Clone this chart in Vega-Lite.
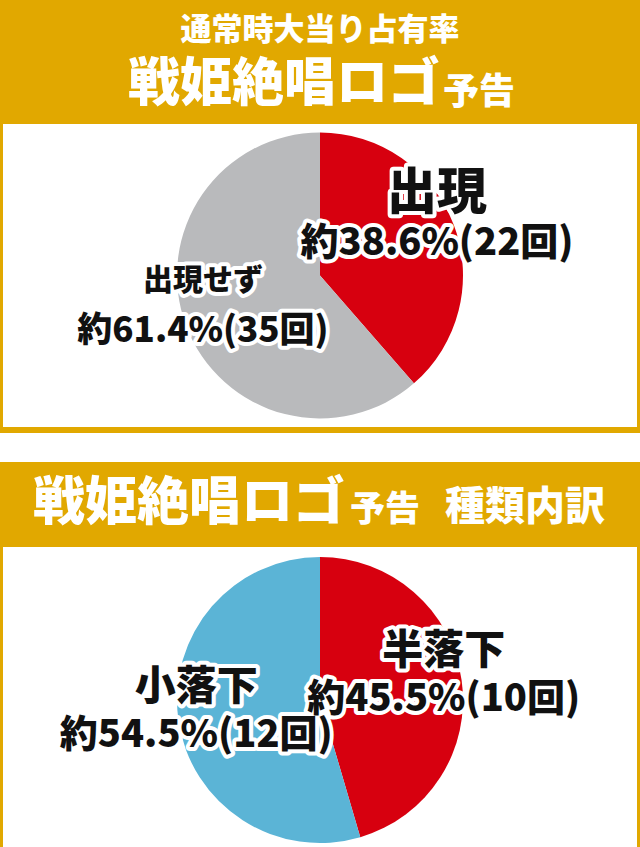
{
  "$schema": "https://vega.github.io/schema/vega-lite/v6.json",
  "padding": {"left": -3, "top": 0, "right": 0, "bottom": 0},
  "background": "white",
  "spacing": 29,
  "config": {
    "view": {"stroke": null},
    "concat": {"spacing": 0},
    "text": {"font": "Noto Sans CJK JP", "fontWeight": 900}
  },
  "resolve": {"scale": {"color": "independent", "size": "independent", "theta": "independent"}},
  "datasets": {
    "header1": [
      {"部分": "上段", "文字": "通常時大当り占有率"},
      {"部分": "主", "文字": "戦姫絶唱ロゴ"},
      {"部分": "副", "文字": "予告"}
    ],
    "header2": [
      {"部分": "主", "文字": "戦姫絶唱ロゴ"},
      {"部分": "副", "文字": "予告"},
      {"部分": "副2", "文字": "種類内訳"}
    ],
    "pie1": [
      {"結果": "出現", "回数": 22, "ラベル": "約38.6%(22回)"},
      {"結果": "出現せず", "回数": 35, "ラベル": "約61.4%(35回)"}
    ],
    "pie2": [
      {"結果": "半落下", "回数": 10, "ラベル": "約45.5%(10回)"},
      {"結果": "小落下", "回数": 12, "ラベル": "約54.5%(12回)"}
    ]
  },
  "vconcat": [
    {
      "spacing": 0,
      "resolve": {"scale": {"color": "independent", "size": "independent", "theta": "independent"}},
      "vconcat": [
        {
          "width": 640,
          "height": 118,
          "view": {"fill": "#E1A800", "stroke": null},
          "data": {"name": "header1"},
          "layer": [
            {
              "transform": [{"filter": "datum['部分'] === '上段'"}],
              "mark": {"type": "text", "fontSize": 31, "color": "white", "dy": -28, "align": "center", "baseline": "middle"},
              "encoding": {"text": {"field": "文字"}}
            },
            {
              "transform": [{"filter": "datum['部分'] === '主'"}],
              "mark": {"type": "text", "fontSize": 52, "color": "white", "dy": 26, "dx": 120, "align": "right", "baseline": "middle"},
              "encoding": {"text": {"field": "文字"}}
            },
            {
              "transform": [{"filter": "datum['部分'] === '副'"}],
              "mark": {"type": "text", "fontSize": 36, "color": "white", "dy": 34, "dx": 123, "align": "left", "baseline": "middle"},
              "encoding": {"text": {"field": "文字"}}
            }
          ]
        },
        {
          "width": 640,
          "height": 309,
          "view": {"fill": "white", "stroke": "#E1A800", "strokeWidth": 6},
          "data": {"name": "pie1"},
          "encoding": {
            "theta": {"field": "回数", "type": "quantitative", "stack": true},
            "order": {"field": "回数", "sort": "ascending"}
          },
          "layer": [
            {
              "mark": {"type": "arc", "radius": 143},
              "encoding": {
                "color": {"field": "結果", "type": "nominal", "scale": {"domain": ["出現", "出現せず"], "range": ["#D7000F", "#B9BABC"]}, "legend": null}
              }
            },
            {
              "mark": {"type": "text", "radius": 125, "dy": -38, "fill": "white", "stroke": "white", "strokeWidth": 8, "strokeJoin": "round", "baseline": "middle"},
              "encoding": {
                "text": {"field": "結果"},
                "size": {"field": "結果", "type": "nominal", "scale": {"domain": ["出現", "出現せず"], "range": [50, 30]}, "legend": null}
              }
            },
            {
              "mark": {"type": "text", "radius": 125, "dy": -38, "fill": "#111111", "baseline": "middle"},
              "encoding": {
                "text": {"field": "結果"},
                "size": {"field": "結果", "type": "nominal", "scale": {"domain": ["出現", "出現せず"], "range": [50, 30]}, "legend": null}
              }
            },
            {
              "mark": {"type": "text", "radius": 125, "dy": 12, "fill": "white", "stroke": "white", "strokeWidth": 8, "strokeJoin": "round", "baseline": "middle"},
              "encoding": {
                "text": {"field": "ラベル"},
                "size": {"field": "ラベル", "type": "nominal", "scale": {"domain": ["約38.6%(22回)", "約61.4%(35回)"], "range": [38, 35]}, "legend": null}
              }
            },
            {
              "mark": {"type": "text", "radius": 125, "dy": 12, "fill": "#111111", "baseline": "middle"},
              "encoding": {
                "text": {"field": "ラベル"},
                "size": {"field": "ラベル", "type": "nominal", "scale": {"domain": ["約38.6%(22回)", "約61.4%(35回)"], "range": [38, 35]}, "legend": null}
              }
            }
          ],
          "resolve": {"scale": {"size": "independent"}}
        }
      ]
    },
    {
      "spacing": 0,
      "resolve": {"scale": {"color": "independent", "size": "independent", "theta": "independent"}},
      "vconcat": [
        {
          "width": 640,
          "height": 79,
          "view": {"fill": "#E1A800", "stroke": null},
          "data": {"name": "header2"},
          "layer": [
            {
              "transform": [{"filter": "datum['部分'] === '主'"}],
              "mark": {"type": "text", "fontSize": 52, "color": "white", "dy": 2, "dx": 25, "align": "right", "baseline": "middle"},
              "encoding": {"text": {"field": "文字"}}
            },
            {
              "transform": [{"filter": "datum['部分'] === '副'"}],
              "mark": {"type": "text", "fontSize": 35, "color": "white", "dy": 8, "dx": 30, "align": "left", "baseline": "middle"},
              "encoding": {"text": {"field": "文字"}}
            },
            {
              "transform": [{"filter": "datum['部分'] === '副2'"}],
              "mark": {"type": "text", "fontSize": 40, "color": "white", "dy": 6, "dx": 125, "align": "left", "baseline": "middle"},
              "encoding": {"text": {"field": "文字"}}
            }
          ]
        },
        {
          "width": 640,
          "height": 312,
          "view": {"fill": "white", "stroke": "#E1A800", "strokeWidth": 6},
          "data": {"name": "pie2"},
          "encoding": {
            "theta": {"field": "回数", "type": "quantitative", "stack": true},
            "order": {"field": "回数", "sort": "ascending"}
          },
          "layer": [
            {
              "mark": {"type": "arc", "radius": 143},
              "encoding": {
                "color": {"field": "結果", "type": "nominal", "scale": {"domain": ["半落下", "小落下"], "range": ["#D7000F", "#5BB4D6"]}, "legend": null}
              }
            },
            {
              "mark": {"type": "text", "radius": 125, "dy": -30, "fill": "white", "stroke": "white", "strokeWidth": 8, "strokeJoin": "round", "baseline": "middle", "fontSize": 41},
              "encoding": {"text": {"field": "結果"}}
            },
            {
              "mark": {"type": "text", "radius": 125, "dy": -30, "fill": "#111111", "baseline": "middle", "fontSize": 41},
              "encoding": {"text": {"field": "結果"}}
            },
            {
              "mark": {"type": "text", "radius": 125, "dy": 18, "fill": "white", "stroke": "white", "strokeWidth": 8, "strokeJoin": "round", "baseline": "middle", "fontSize": 38},
              "encoding": {"text": {"field": "ラベル"}}
            },
            {
              "mark": {"type": "text", "radius": 125, "dy": 18, "fill": "#111111", "baseline": "middle", "fontSize": 38},
              "encoding": {"text": {"field": "ラベル"}}
            }
          ]
        }
      ]
    }
  ]
}
